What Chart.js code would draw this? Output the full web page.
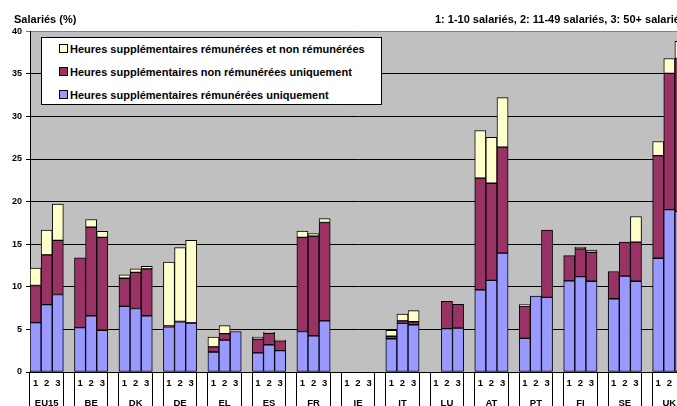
<!DOCTYPE html>
<html>
<head>
<meta charset="utf-8">
<script src="https://cdn.jsdelivr.net/npm/chart.js@4.4.0/dist/chart.umd.min.js"></script>
<style>
  html, body { margin: 0; padding: 0; background: #fff; overflow: hidden; }
  #wrap { position: relative; width: 689px; height: 412px; }
  #legend {
    position: absolute; left: 41px; top: 37px; width: 341px; height: 68px;
    background: #fff; border: 1px solid #000; box-sizing: border-box;
    padding: 3px 0 0 17px; font: bold 11px Arial, "Liberation Sans", sans-serif;
  }
  #legend div { height: 23px; line-height: 17px; white-space: nowrap; }
  #legend span.box {
    display: inline-block; width: 7px; height: 7px; border: 1px solid #000;
    margin-right: 2px; vertical-align: 0px;
  }
</style>
</head>
<body>
<div id="wrap">
  <canvas id="myChart" width="689" height="412"></canvas>
  <div id="legend"></div>
</div>
<script>
// country groups and size classes (1: 1-10, 2: 11-49, 3: 50+ salariés)
var countries = ['EU15', 'BE', 'DK', 'DE', 'EL', 'ES', 'FR', 'IE', 'IT', 'LU', 'AT', 'PT', 'FI', 'SE', 'UK'];
var sizeClasses = ['1', '2', '3'];
var yTicks = [0, 5, 10, 15, 20, 25, 30, 35, 40];

// 3 values per country, in the order of sizeClasses
var paidOnly = [
  5.8, 7.9, 9.1,   5.2, 6.6, 4.9,   7.7, 7.45, 6.6,   5.3, 5.9, 5.75,
  2.35, 3.75, 4.75,   2.25, 3.2, 2.5,   4.75, 4.25, 6.0,   null, null, null,
  3.9, 5.7, 5.55,   null, 5.1, 5.15,   9.65, 10.75, 13.95,   3.95, 8.9, 8.75,
  10.7, 11.2, 10.65,   8.6, 11.25, 10.65,   13.35, 19.05, 18.85
];
var unpaidOnly = [
  4.35, 5.85, 6.35,   8.2, 10.4, 10.9,   3.3, 4.25, 5.5,   0.1, 0.05, 0.05,
  0.6, 0.75, null,   1.6, 1.35, 1.15,   11.05, 11.7, 11.55,   null, null, null,
  0.3, 0.3, 0.35,   null, 3.2, 2.8,   13.1, 11.4, 12.45,   3.8, null, 7.9,
  2.95, 3.25, 3.4,   3.2, 4.0, 4.6,   12.05, 16.0, 17.95
];
var paidAndUnpaid = [
  2.05, 2.9, 4.25,   null, 0.9, 0.7,   0.4, 0.4, 0.3,   7.5, 8.65, 9.65,
  1.15, 0.95, null,   0.25, 0.1, 0.1,   0.75, 0.3, 0.45,   null, null, null,
  0.7, 0.8, 1.3,   null, null, null,   5.6, 5.4, 5.8,   0.15, null, null,
  null, 0.2, 0.25,   null, null, 3.0,   1.65, 1.75, 2.0
];

// each country takes 3 bars, with an empty slot between countries
var slotLabels = [], groupLabels = [];
countries.forEach(function (c, i) {
  sizeClasses.forEach(function (s, j) {
    slotLabels.push(s);
    groupLabels.push(j === 1 ? c : '');
  });
  if (i < countries.length - 1) {
    slotLabels.push('');
    groupLabels.push('');
  }
});

function toSlots(values) {
  var out = [];
  countries.forEach(function (c, i) {
    out.push(values[i * 3], values[i * 3 + 1], values[i * 3 + 2]);
    if (i < countries.length - 1) out.push(null);
  });
  return out;
}

Chart.defaults.font.family = 'Arial, "Liberation Sans", sans-serif';
Chart.defaults.color = '#000';

var plotBackground = {
  id: 'plotBackground',
  afterLayout: function (chart) {
    // title sits a little right of the canvas edge, as in the original
    if (chart.titleBlock) chart.titleBlock.left = 14;
  },
  beforeDraw: function (chart) {
    var a = chart.chartArea, c = chart.ctx;
    c.save();
    c.fillStyle = '#c0c0c0';
    c.fillRect(a.left, a.top, a.right - a.left, a.bottom - a.top);
    c.restore();
  }
};

// separators around each country group
function groupLine(ctx) {
  if (ctx.index === undefined) return '#000';
  var k = ctx.index % 4;
  return (k === 0 || k === 3) ? '#000' : 'rgba(0,0,0,0)';
}

var ctx = document.getElementById('myChart').getContext('2d');
var chart = new Chart(ctx, {
  type: 'bar',
  data: {
    labels: slotLabels,
    datasets: [
      { label: 'Heures supplémentaires rémunérées uniquement', data: toSlots(paidOnly), backgroundColor: '#9999ff' },
      { label: 'Heures supplémentaires non rémunérées uniquement', data: toSlots(unpaidOnly), backgroundColor: '#993366' },
      { label: 'Heures supplémentaires rémunérées et non rémunérées', data: toSlots(paidAndUnpaid), backgroundColor: '#ffffcc' }
    ]
  },
  options: {
    responsive: false,
    animation: false,
    layout: { padding: { left: 8, right: 3, top: 0, bottom: 0 } },
    datasets: {
      bar: {
        barPercentage: 1,
        categoryPercentage: 1,
        borderWidth: 1,
        borderColor: '#000',
        borderSkipped: false
      }
    },
    plugins: {
      legend: { display: false },
      tooltip: { enabled: false },
      title: {
        display: true,
        text: 'Salariés (%)',
        align: 'start',
        font: { size: 11, weight: 'bold' },
        padding: { top: 13, bottom: 5 }
      },
      subtitle: {
        display: true,
        text: '1: 1-10 salariés, 2: 11-49 salariés, 3: 50+ salariés',
        align: 'end',
        color: '#000',
        font: { size: 11, weight: 'bold' },
        padding: { top: -18.2, bottom: 5 }
      }
    },
    scales: {
      x: {
        stacked: true,
        weight: 0,
        afterFit: function (axis) { axis.height = 17; },
        grid: { drawOnChartArea: false, drawTicks: true, tickLength: 17, color: groupLine },
        border: { display: true, color: '#000' },
        ticks: { autoSkip: false, maxRotation: 0, padding: -11.4, font: { size: 9.5, weight: 'bold' } }
      },
      x2: {
        type: 'category',
        labels: groupLabels,
        position: 'bottom',
        weight: 1,
        offset: true,
        afterFit: function (axis) { axis.height = 23; },
        grid: { offset: true, drawOnChartArea: false, drawTicks: true, tickLength: 25, color: groupLine },
        border: { display: false },
        ticks: { autoSkip: false, maxRotation: 0, padding: -16.7, font: { size: 9.5, weight: 'bold' } }
      },
      y: {
        stacked: true,
        min: 0,
        max: 40,
        afterFit: function (axis) { axis.width = 22; },
        afterBuildTicks: function (axis) {
          axis.ticks = yTicks.map(function (v) { return { value: v }; });
        },
        grid: {
          tickLength: 4,
          color: function (c) { return c.tick && c.tick.value === 40 ? '#808080' : '#000'; }
        },
        border: { display: true, color: '#000' },
        ticks: { padding: 4, font: { size: 9, weight: 'bold' } }
      }
    }
  },
  plugins: [plotBackground]
});

// legend box inside the plot, last series first
var legend = document.getElementById('legend');
chart.data.datasets.slice().reverse().forEach(function (ds) {
  var row = document.createElement('div');
  var box = document.createElement('span');
  box.className = 'box';
  box.style.background = ds.backgroundColor;
  row.appendChild(box);
  row.appendChild(document.createTextNode(ds.label));
  legend.appendChild(row);
});
</script>
</body>
</html>
